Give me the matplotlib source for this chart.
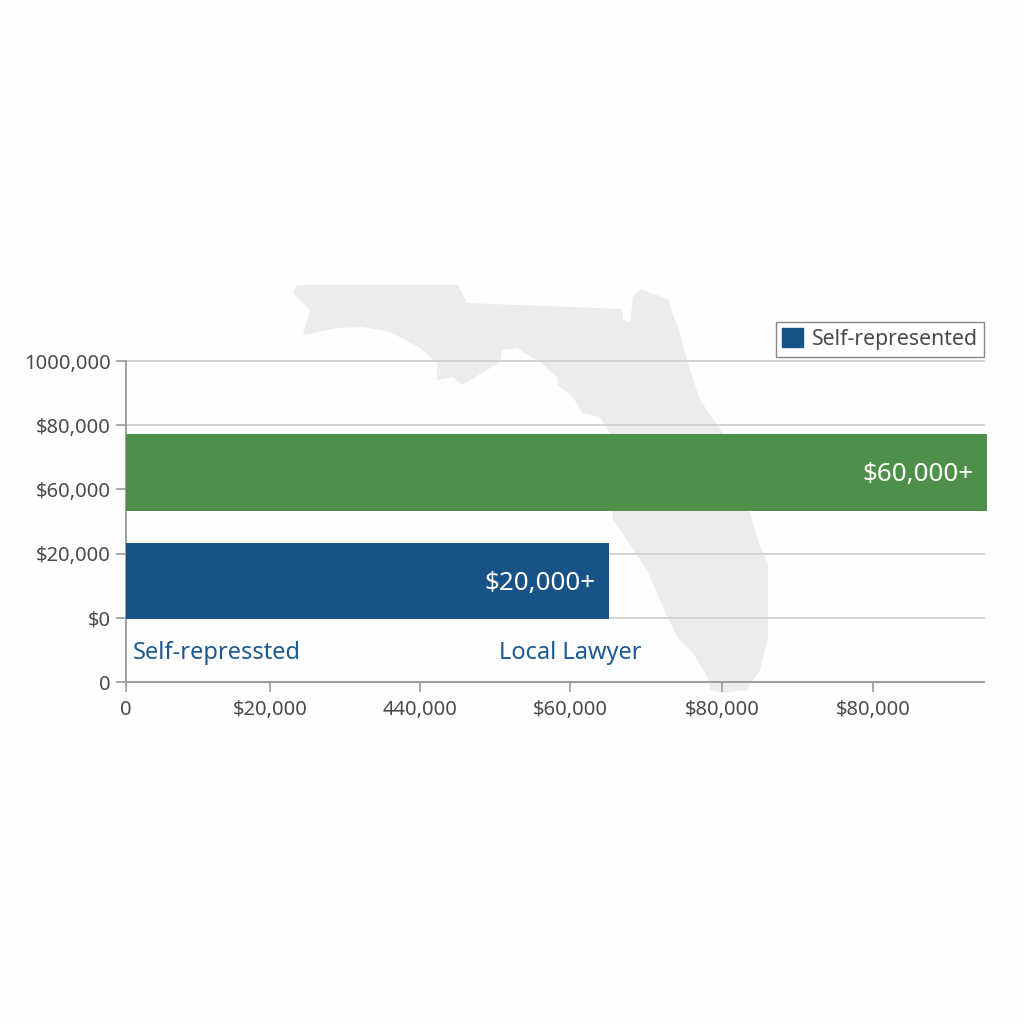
import matplotlib
matplotlib.use("Agg")
from matplotlib import pyplot
from matplotlib.patches import Patch, Polygon

pyplot.rcParams['font.family'] = ['Noto Sans', 'DejaVu Sans']

# values
bar_names = ["Self-represented", "Local Lawyer"]
bar_lows = [19600, 53300]
bar_highs = [43300, 77300]
bar_lengths = [64700, 115300]
bar_labels = ["$20,000+", "$60,000+"]
bar_colors = ["#175387", "#4e8f4a"]

y_ticks = [0, 20000, 40000, 60000, 80000, 100000]
y_tick_labels = ["0", "$0", "$20,000", "$60,000", "$80,000", "1000,000"]
x_ticks = [0, 19300, 39400, 59500, 79800, 100000]
x_tick_labels = ["0", "$20,000", "440,000", "$60,000", "$80,000", "$80,000"]

under_names = ["Self-repressted", "Local Lawyer"]
under_x = [900, 50000]

# background state shape, image pixels
florida = [(297,285),(458,285),(467,303),(622,309),(623,320),(630,323),(633,297),
           (640,289),(668,299),(672,313),(678,327),(687,360),(700,400),(723,433),
           (750,513),(760,547),(768,563),(768,637),(760,670),(747,690),(723,693),
           (710,690),(708,678),(693,653),(677,637),(663,607),(647,570),(627,540),
           (613,520),(610,433),(600,417),(582,413),(573,397),(558,385),(557,377),
           (540,362),(517,348),(502,350),(500,362),(487,370),(462,385),(453,377),
           (437,380),(437,363),(420,348),(390,332),(363,327),(337,328),(303,335),
           (310,310),(293,293)]

fig = pyplot.figure(figsize=(10.24, 10.24), dpi=100, facecolor="#fefefe")

back = fig.add_axes([0, 0, 1, 1])
back.set_xlim(0, 1024)
back.set_ylim(1024, 0)
back.axis("off")
back.add_patch(Polygon(florida, closed=True, facecolor="#ebecec", edgecolor="none"))

ax = fig.add_axes([126/1024, 1 - 682/1024, 858/1024, 321/1024])
ax.patch.set_alpha(0)
ax.set_xlim(0, 114860)
ax.set_ylim(0, 100000)

ax.yaxis.grid(True, color="#d0d0d0", linewidth=1.3, clip_on=False)
ax.set_axisbelow(True)

for i in range(len(bar_names)):
    ax.barh((bar_lows[i] + bar_highs[i]) / 2, bar_lengths[i], bar_highs[i] - bar_lows[i],
            color=bar_colors[i], clip_on=False, zorder=3)
    ax.text(bar_lengths[i] - 1900, (bar_lows[i] + bar_highs[i]) / 2 - 800, bar_labels[i],
            color="white", fontsize=18.7, ha="right", va="center", zorder=4)

for i in range(len(under_names)):
    ax.text(under_x[i], 9000, under_names[i], color="#1c5a92", fontsize=17,
            ha="left", va="center", zorder=4)

ax.set_xticks(x_ticks)
ax.set_xticklabels(x_tick_labels)
ax.set_yticks(y_ticks)
ax.set_yticklabels(y_tick_labels)
ax.tick_params(axis="both", length=7, width=1.2, color="#999999",
               labelcolor="#4a4a4a", labelsize=14.5, pad=4)
ax.tick_params(axis="x", pad=6)

for side in ["top", "right"]:
    ax.spines[side].set_visible(False)
for side in ["left", "bottom"]:
    ax.spines[side].set_color("#999999")
    ax.spines[side].set_linewidth(1.3)

ax.legend(handles=[Patch(color=bar_colors[0], label=bar_names[0])],
          loc="upper right", bbox_to_anchor=(984/1024, 1 - 322/1024),
          bbox_transform=fig.transFigure, fancybox=False, framealpha=1,
          edgecolor="#888888", fontsize=15.3, labelcolor="#4a4a4a",
          handlelength=1, handleheight=1, handletextpad=0.4,
          borderpad=0.3, borderaxespad=0)

pyplot.savefig("out.png", dpi=100, facecolor=fig.get_facecolor())
